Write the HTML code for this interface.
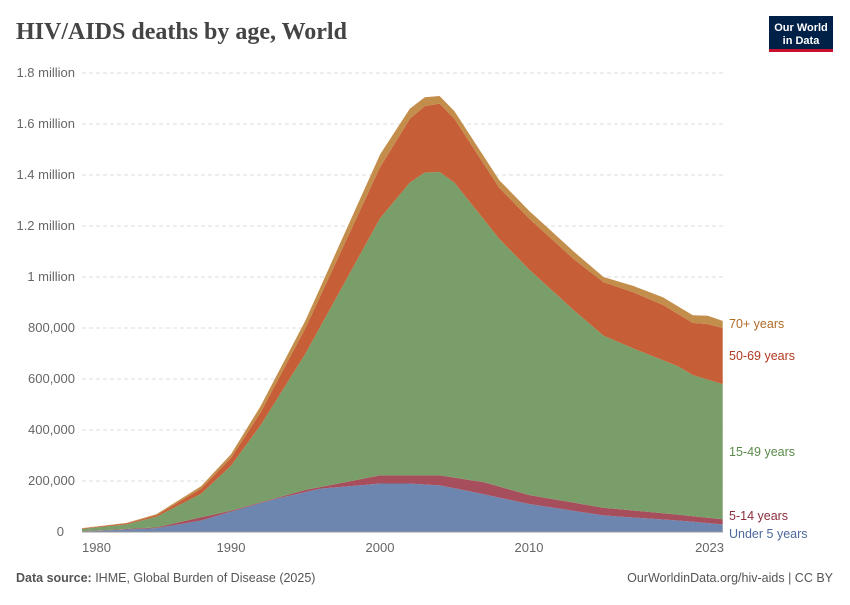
<!DOCTYPE html>
<html><head><meta charset="utf-8"><style>
body{margin:0;background:#fff;font-family:"Liberation Sans",sans-serif}
svg text{font-family:"Liberation Sans",sans-serif}
</style></head><body>
<svg id="s" width="850" height="600" xmlns="http://www.w3.org/2000/svg">
<text x="16" y="39" font-size="24" font-weight="bold" fill="#444" style="font-family:'Liberation Serif',serif">HIV/AIDS deaths by age, World</text>
<rect x="769" y="16" width="64" height="36" fill="#002147"/>
<rect x="769" y="49" width="64" height="3" fill="#c8102e"/>
<text x="801" y="31" font-size="11" fill="#fff" text-anchor="middle" font-weight="bold">Our World</text>
<text x="801" y="44" font-size="11" fill="#fff" text-anchor="middle" font-weight="bold">in Data</text>
<g id="grid"></g>
<g id="areas"></g>
<line x1="82" y1="532" x2="723" y2="532" stroke="#999"/>
<g font-size="13" fill="#666">
<text x="82" y="552">1980</text>
<text x="231" y="552" text-anchor="middle">1990</text>
<text x="380" y="552" text-anchor="middle">2000</text>
<text x="529" y="552" text-anchor="middle">2010</text>
<text x="724" y="552" text-anchor="end">2023</text>
</g>
<g font-size="12.5">
<text x="729" y="328" fill="#b06b26">70+ years</text>
<text x="729" y="360" fill="#b0391f">50-69 years</text>
<text x="729" y="456" fill="#5a8a4a">15-49 years</text>
<text x="729" y="520" fill="#8c2f3c">5-14 years</text>
<text x="729" y="538" fill="#4c6a9c">Under 5 years</text>
</g>
<text x="16" y="582" font-size="12.5" fill="#555"><tspan font-weight="bold">Data source:</tspan> IHME, Global Burden of Disease (2025)</text>
<text x="833" y="582" font-size="12.5" fill="#555" text-anchor="end">OurWorldinData.org/hiv-aids | CC BY</text>
</svg>
<script>
var NS="http://www.w3.org/2000/svg",s=document.getElementById('s');
function X(y){return 82+(y-1980)*14.9}
function Y(v){return 532-v*0.255}
var g=document.getElementById('grid');
var labs=["0","200,000","400,000","600,000","800,000","1 million","1.2 million","1.4 million","1.6 million","1.8 million"];
for(var i=0;i<10;i++){var y=Y(i*200);
 if(i>0){var l=document.createElementNS(NS,'line');l.setAttribute('x1',82);l.setAttribute('x2',723);l.setAttribute('y1',y);l.setAttribute('y2',y);l.setAttribute('stroke','#ddd');l.setAttribute('stroke-dasharray','4,3');g.appendChild(l);}
 var t=document.createElementNS(NS,'text');t.setAttribute('x',i==0?64:75);t.setAttribute('y',y+4);t.setAttribute('font-size','13');t.setAttribute('fill','#666');t.setAttribute('text-anchor','end');t.textContent=labs[i];g.appendChild(t);}
function interp(k){var r=[];for(var y=1980;y<=2023;y++){for(var j=0;j<k.length-1;j++){if(y>=k[j][0]&&y<=k[j+1][0]){var f=(y-k[j][0])/(k[j+1][0]-k[j][0]);r.push(k[j][1]+f*(k[j+1][1]-k[j][1]));break;}}}return r;}
var L=[
 [[1980,2],[1985,15],[1988,45],[1990,80],[1993,130],[1996,170],[2000,190],[2002,190],[2004,183],[2006,160],[2010,110],[2015,65],[2020,45],[2023,30]],
 [[1980,3],[1985,18],[1990,84],[1995,165],[2000,222],[2004,222],[2007,195],[2010,145],[2015,95],[2020,68],[2023,50]],
 [[1980,12],[1983,30],[1985,60],[1988,150],[1990,260],[1992,420],[1995,700],[2000,1230],[2002,1370],[2003,1410],[2004,1412],[2005,1370],[2008,1150],[2010,1030],[2013,870],[2015,770],[2017,720],[2020,650],[2021,615],[2023,580]],
 [[1980,14],[1983,34],[1985,66],[1988,170],[1990,290],[1992,470],[1995,800],[2000,1430],[2002,1620],[2003,1670],[2004,1680],[2005,1620],[2008,1350],[2010,1230],[2013,1070],[2015,980],[2017,940],[2019,890],[2021,820],[2022,815],[2023,800]],
 [[1980,15],[1983,36],[1985,70],[1988,180],[1990,305],[1992,495],[1995,830],[2000,1480],[2002,1660],[2003,1705],[2004,1710],[2005,1650],[2008,1380],[2010,1260],[2013,1100],[2015,1000],[2017,965],[2019,920],[2021,850],[2022,848],[2023,828]]];
var C=["#6d86b0","#a74e5c","#7a9e69","#c65f37","#c38e4b"];
var A=document.getElementById('areas'),prev=null;
for(var i=0;i<5;i++){var d=interp(L[i]),p="";
 for(var j=0;j<d.length;j++)p+=(j?"L":"M")+X(1980+j)+","+Y(d[j]);
 for(var j=d.length-1;j>=0;j--)p+="L"+X(1980+j)+","+(prev?Y(prev[j]):532);
 var e=document.createElementNS(NS,'path');e.setAttribute('d',p+"Z");e.setAttribute('fill',C[i]);A.appendChild(e);prev=d;}
</script>
</body></html>
